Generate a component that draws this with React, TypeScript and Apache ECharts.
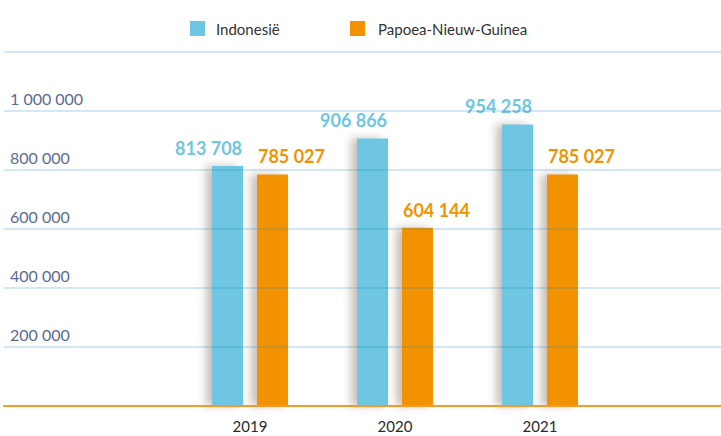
import React, { useEffect, useRef } from "react";
import * as echarts from "echarts";

const categories = ["2019", "2020", "2021"];
const seriesNames = ["Indonesië", "Papoea-Nieuw-Guinea"];
const indonesia = [813708, 906866, 954258];
const png = [785027, 604144, 785027];
const yMin = 0;
const yMax = 1200000;
const yInterval = 200000;

const BLUE = "#6ec6e2";
const ORANGE = "#f39200";
const FONT = "Lato, 'Noto Sans', sans-serif";

const fmt = (v: number) =>
  String(Math.round(v)).replace(/\B(?=(\d{3})+(?!\d))/g, " ");

export default function App() {
  const ref = useRef<HTMLDivElement>(null);
  useEffect(() => {
    if (!ref.current) return;
    const chart = echarts.init(ref.current, undefined, { renderer: "svg" });
    const grid = { top: 52, bottom: 30 };
    chart.setOption({
      animation: false,
      backgroundColor: "#ffffff",
      textStyle: { fontFamily: FONT },
      legend: [
        {
          data: [seriesNames[0]],
          left: 185,
          top: 16,
          itemWidth: 15,
          itemHeight: 15,
          icon: "rect",
          textStyle: { color: "#333333", fontSize: 15, fontFamily: FONT, padding: [0, 0, 0, 6] },
        },
        {
          data: [seriesNames[1]],
          left: 345,
          top: 16,
          itemWidth: 15,
          itemHeight: 15,
          icon: "rect",
          textStyle: { color: "#333333", fontSize: 15, fontFamily: FONT, padding: [0, 0, 0, 8] },
        },
      ],
      grid: [
        { left: 4, right: 0, ...grid },
        { left: 177.5, right: 108.5, ...grid },
      ],
      xAxis: [
        {
          type: "category",
          gridIndex: 0,
          data: [""],
          axisLine: { show: true, lineStyle: { color: "#f39a2a", width: 2 } },
          axisTick: { show: false },
          axisLabel: { show: false },
          z: 4,
        },
        {
          type: "category",
          gridIndex: 1,
          data: categories,
          axisLine: { show: false },
          axisTick: { show: false },
          axisLabel: { color: "#2a2a2a", fontSize: 15, fontFamily: FONT, margin: 12 },
        },
      ],
      yAxis: [
        {
          type: "value",
          gridIndex: 0,
          min: yMin,
          max: yMax,
          interval: yInterval,
          z: 3,
          axisLine: { show: false },
          axisTick: { show: false },
          splitLine: { lineStyle: { color: "rgba(30,140,190,0.2)", width: 2 } },
          axisLabel: {
            inside: true,
            margin: 6,
            showMinLabel: false,
            showMaxLabel: false,
            color: "#5a6b92",
            fontSize: 16,
            fontFamily: FONT,
            verticalAlign: "bottom",
            lineHeight: 16,
            padding: [0, 0, 5, 0],
            formatter: (v: number) => fmt(v),
          },
        },
        {
          type: "value",
          gridIndex: 1,
          min: yMin,
          max: yMax,
          interval: yInterval,
          show: false,
          splitLine: { show: false },
        },
      ],
      series: [
        {
          name: seriesNames[0],
          type: "bar",
          xAxisIndex: 1,
          yAxisIndex: 1,
          data: indonesia,
          barWidth: 31,
          barGap: "45%",
          itemStyle: {
            color: BLUE,
            shadowBlur: 9,
            shadowOffsetX: -6,
            shadowColor: "rgba(100,70,50,0.35)",
          },
          label: {
            show: true,
            position: "top",
            distance: 9,
            offset: [-19, 0],
            color: BLUE,
            fontSize: 18,
            fontWeight: "bold",
            fontFamily: FONT,
            formatter: (p: any) => fmt(p.value),
          },
        },
        {
          name: seriesNames[1],
          type: "bar",
          xAxisIndex: 1,
          yAxisIndex: 1,
          data: png,
          barWidth: 31,
          barGap: "45%",
          itemStyle: {
            color: ORANGE,
            shadowBlur: 9,
            shadowOffsetX: -6,
            shadowColor: "rgba(100,70,50,0.35)",
          },
          label: {
            show: true,
            position: "top",
            distance: 9,
            offset: [19, 0],
            color: ORANGE,
            fontSize: 18,
            fontWeight: "bold",
            fontFamily: FONT,
            formatter: (p: any) => fmt(p.value),
          },
        },
      ],
    });
    return () => chart.dispose();
  }, []);
  return <div ref={ref} style={{ width: 721, height: 436, position: "absolute", left: 0, top: 0 }} />;
}
